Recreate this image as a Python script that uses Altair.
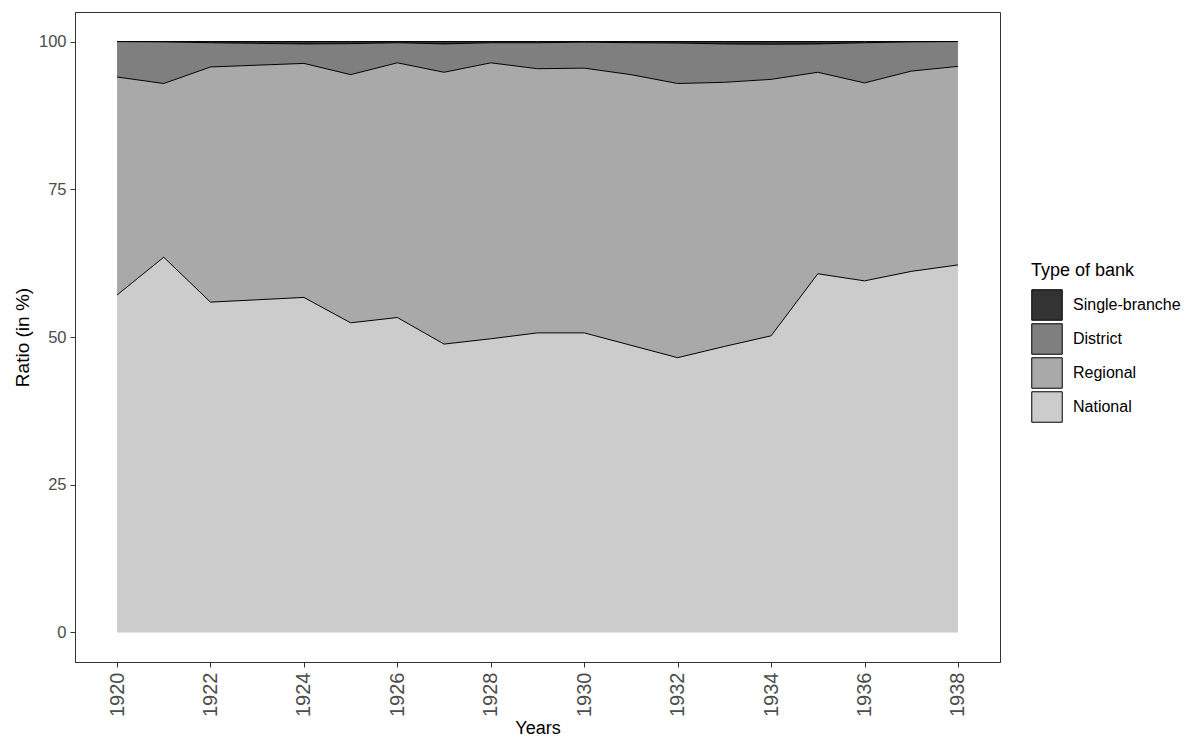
import altair as alt
import pandas as pd

YEARS = list(range(1920, 1939))

# shares of each bank type (in %)
NATIONAL = [57.1, 63.5, 55.9, 56.3, 56.7, 52.4, 53.3, 48.8, 49.7, 50.7,
            50.7, 48.6, 46.5, 48.4, 50.2, 60.7, 59.5, 61.1, 62.2]
REGIONAL = [36.9, 29.4, 39.8, 39.7, 39.6, 42.0, 43.1, 46.0, 46.7, 44.7,
            44.8, 45.8, 46.4, 44.7, 43.4, 34.1, 33.5, 33.9, 33.6]
DISTRICT = [6.0, 7.05, 4.1, 3.7, 3.3, 5.25, 3.4, 4.8, 3.4, 4.4,
            4.4, 5.4, 6.85, 6.5, 5.95, 4.8, 6.8, 4.95, 4.2]
SINGLE_BRANCHE = [0.0, 0.05, 0.2, 0.3, 0.4, 0.35, 0.2, 0.4, 0.2, 0.2,
                  0.1, 0.2, 0.25, 0.4, 0.45, 0.4, 0.2, 0.05, 0.0]

TYPES = ["Single-branche", "District", "Regional", "National"]
GREYS = ["#333333", "#7f7f7f", "#a9a9a9", "#cccccc"]
X_TICKS = list(range(1920, 1939, 2))
Y_TICKS = [0, 25, 50, 75, 100]

series = [("National", NATIONAL), ("Regional", REGIONAL),
          ("District", DISTRICT), ("Single-branche", SINGLE_BRANCHE)]
rows = []
for rank, (name, vals) in enumerate(series):
    for yr, v in zip(YEARS, vals):
        rows.append({"year": yr, "type": name, "ratio": v, "rank": rank})
df = pd.DataFrame(rows)

FONT = "Liberation Sans"

x = alt.X(
    "year:Q",
    title="Years",
    scale=alt.Scale(domain=[1919.1, 1938.9], nice=False, zero=False),
    axis=alt.Axis(values=X_TICKS, format="d", labelAngle=270, labelFontSize=20,
                  labelPadding=5, titlePadding=3, titleFontSize=18, grid=False),
)
y_scale = alt.Scale(domain=[-5, 105], nice=False, zero=False)

base = alt.Chart(df).transform_stack(
    stack="ratio",
    groupby=["year"],
    as_=["lo", "hi"],
    sort=[alt.SortField("rank", order="ascending")],
)

areas = base.mark_area(interpolate="linear").encode(
    x=x,
    y=alt.Y("hi:Q", title="Ratio (in %)", scale=y_scale,
            axis=alt.Axis(values=Y_TICKS, labelFontSize=16.5, labelPadding=4,
                          titlePadding=6, grid=False)),
    y2="lo:Q",
    color=alt.Color(
        "type:N",
        scale=alt.Scale(domain=TYPES, range=GREYS),
        legend=alt.Legend(
            title="Type of bank",
            orient="none",
            legendX=956,
            legendY=250,
            titleFontSize=18,
            titleFontWeight="normal",
            titleColor="black",
            titlePadding=9,
            labelFontSize=16,
            labelColor="black",
            labelOffset=10,
            symbolType="square",
            symbolSize=930,
            symbolStrokeColor="black",
            symbolStrokeWidth=1,
            symbolOpacity=1,
            rowPadding=-4,
        ),
    ),
)

lines = base.mark_line(color="black", strokeWidth=1).encode(
    x=x,
    y=alt.Y("hi:Q", scale=y_scale),
    detail="type:N",
)

chart = (
    alt.layer(areas, lines)
    .properties(
        width=925,
        height=650,
        autosize=alt.AutoSizeParams(type="none"),
        padding={"left": 67, "top": 4, "right": 185, "bottom": 78},
    )
    .configure_view(stroke="#333333", strokeWidth=1)
    .configure_axis(
        labelFont=FONT,
        titleFont=FONT,
        labelColor="#4d4d4d",
        titleColor="black",
        titleFontSize=19,
        titleFontWeight="normal",
        tickColor="#333333",
        tickSize=5,
        domainColor="#333333",
    )
    .configure_legend(labelFont=FONT, titleFont=FONT)
)

chart.save("out.html", embed_options={"renderer": "svg", "actions": False})
